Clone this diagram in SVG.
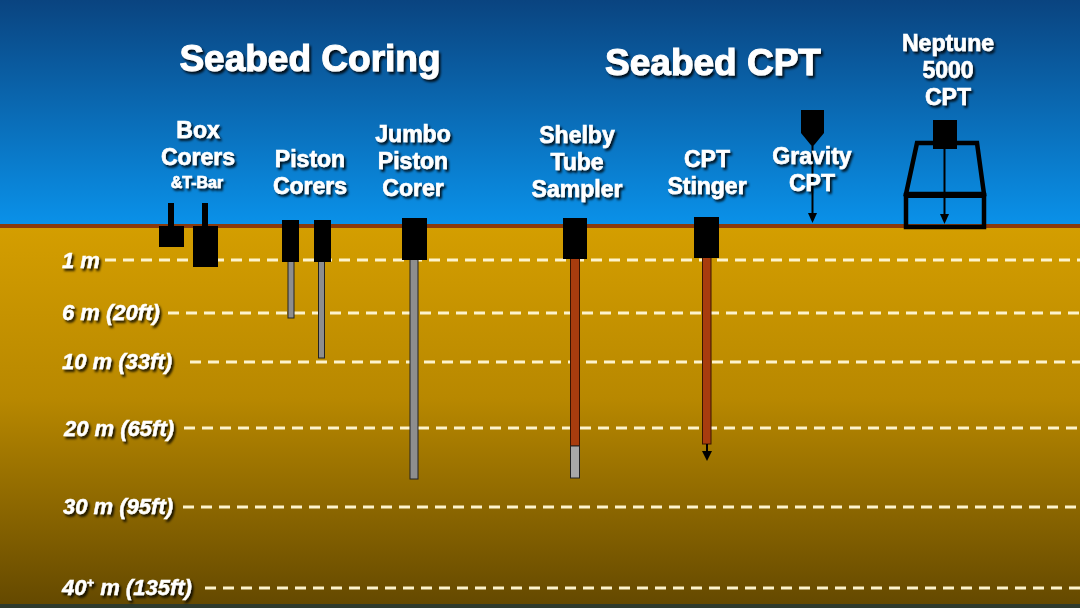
<svg xmlns="http://www.w3.org/2000/svg" width="1080" height="608" viewBox="0 0 1080 608">
<defs>
<linearGradient id="sky" x1="0" y1="0" x2="0" y2="1">
<stop offset="0" stop-color="#0a4480"/>
<stop offset="1" stop-color="#0a92ea"/>
</linearGradient>
<linearGradient id="ground" x1="0" y1="0" x2="0" y2="1">
<stop offset="0" stop-color="#d49e00"/>
<stop offset="0.45" stop-color="#b88800"/>
<stop offset="1" stop-color="#634800"/>
</linearGradient>
<filter id="sh" x="-10%" y="-30%" width="130%" height="170%">
<feDropShadow dx="2" dy="2.5" stdDeviation="1" flood-color="#000" flood-opacity="0.85"/>
</filter>
</defs>
<style>
.title{font-family:"Liberation Sans",Arial,sans-serif;font-weight:bold;font-size:37px;fill:#fff;stroke:#fff;stroke-width:1;text-anchor:middle;filter:url(#sh)}
.lbl{font-family:"Liberation Sans",Arial,sans-serif;font-weight:bold;font-size:23px;fill:#fff;stroke:#fff;stroke-width:0.6;text-anchor:middle;filter:url(#sh)}
.dep{font-family:"Liberation Sans",Arial,sans-serif;font-weight:bold;font-style:italic;font-size:22px;fill:#fff;stroke:#fff;stroke-width:0.4;filter:url(#sh)}
.dash{stroke:#fdf3cc;stroke-width:3;stroke-dasharray:11 7;fill:none}
.blk{fill:#000}
.gray{fill:#8e8e8e;stroke:#222;stroke-width:1}
.brn{fill:#a83c0e;stroke:#3a1400;stroke-width:1}
.ln{stroke:#000;stroke-width:2;fill:none}
.frame{stroke:#000;stroke-width:4.5;fill:none}
</style>

<rect x="0" y="0" width="1080" height="227" fill="url(#sky)"/>
<rect x="0" y="227" width="1080" height="381" fill="url(#ground)"/>
<rect x="0" y="224" width="1080" height="4" fill="#8a3a0c"/>
<rect x="0" y="604" width="1080" height="4" fill="#2e3a2c"/>

<text class="title" x="310" y="71">Seabed Coring</text>
<text class="title" x="713" y="75">Seabed CPT</text>

<g id="depths">
<line class="dash" x1="105" y1="260" x2="1080" y2="260"/>
<line class="dash" x1="168" y1="313" x2="1080" y2="313"/>
<line class="dash" x1="190" y1="362" x2="1080" y2="362"/>
<line class="dash" x1="184" y1="428" x2="1080" y2="428"/>
<line class="dash" x1="183" y1="507" x2="1080" y2="507"/>
<line class="dash" x1="205" y1="588" x2="1080" y2="588"/>
<text class="dep" x="62" y="268">1 m</text>
<text class="dep" x="62" y="320">6 m (20ft)</text>
<text class="dep" x="62" y="369">10 m (33ft)</text>
<text class="dep" x="64" y="436">20 m (65ft)</text>
<text class="dep" x="63" y="514">30 m (95ft)</text>
<text class="dep" x="62" y="595">40<tspan font-size="13" dy="-8">+</tspan><tspan dy="8"> m (135ft)</tspan></text>
</g>

<g id="box-corers">
<text class="lbl" x="198" y="138">Box</text>
<text class="lbl" x="198" y="165">Corers</text>
<text class="lbl" x="197" y="188" style="font-size:16px">&amp;T-Bar</text>
<rect class="blk" x="168" y="203" width="6" height="24"/>
<rect class="blk" x="159" y="226" width="25" height="21"/>
<rect class="blk" x="202" y="203" width="6" height="24"/>
<rect class="blk" x="193" y="226" width="25" height="41"/>
</g>

<g id="piston-corers">
<text class="lbl" x="310" y="167">Piston</text>
<text class="lbl" x="310" y="194">Corers</text>
<rect class="gray" x="288" y="261" width="6" height="57"/>
<rect class="blk" x="282" y="220" width="17" height="42"/>
<rect class="gray" x="318.5" y="261" width="6" height="97"/>
<rect class="blk" x="314" y="220" width="17" height="42"/>
</g>

<g id="jumbo-piston-corer">
<text class="lbl" x="413" y="142">Jumbo</text>
<text class="lbl" x="413" y="169">Piston</text>
<text class="lbl" x="413" y="196">Corer</text>
<rect class="gray" x="410" y="259" width="8" height="220"/>
<rect class="blk" x="402" y="218" width="25" height="42"/>
</g>

<g id="shelby-tube-sampler">
<text class="lbl" x="577" y="143">Shelby</text>
<text class="lbl" x="577" y="170">Tube</text>
<text class="lbl" x="577" y="197">Sampler</text>
<rect class="brn" x="570.5" y="258" width="9" height="188"/>
<rect class="gray" x="570.5" y="446" width="9" height="32" style="fill:#a8a8a8"/>
<rect class="blk" x="563" y="218" width="24" height="41"/>
</g>

<g id="cpt-stinger">
<text class="lbl" x="707" y="167">CPT</text>
<text class="lbl" x="707" y="194">Stinger</text>
<rect class="brn" x="702.5" y="257" width="8.5" height="187"/>
<line class="ln" x1="707" y1="444" x2="707" y2="453"/>
<polygon class="blk" points="702,451 712,451 707,461"/>
<rect class="blk" x="694" y="217" width="25" height="41"/>
</g>

<g id="gravity-cpt">
<polygon class="blk" points="801,110 824,110 824,133 812.5,147 801,133"/>
<line class="ln" x1="812.5" y1="146" x2="812.5" y2="215"/>
<polygon class="blk" points="808,213 817,213 812.5,223"/>
<text class="lbl" x="812" y="164">Gravity</text>
<text class="lbl" x="812" y="191">CPT</text>
</g>

<g id="neptune-5000-cpt">
<text class="lbl" x="948" y="51">Neptune</text>
<text class="lbl" x="948" y="78">5000</text>
<text class="lbl" x="948" y="105">CPT</text>
<path class="frame" d="M917,143 L977,143 L984,194 L906,194 Z"/>
<rect class="frame" x="906" y="195" width="78" height="32"/>
<rect class="blk" x="906" y="192" width="78" height="6"/>
<line class="ln" x1="944.5" y1="149" x2="944.5" y2="216"/>
<polygon class="blk" points="940,214 949,214 944.5,224"/>
<rect class="blk" x="933" y="120" width="24" height="29"/>
</g>
</svg>
